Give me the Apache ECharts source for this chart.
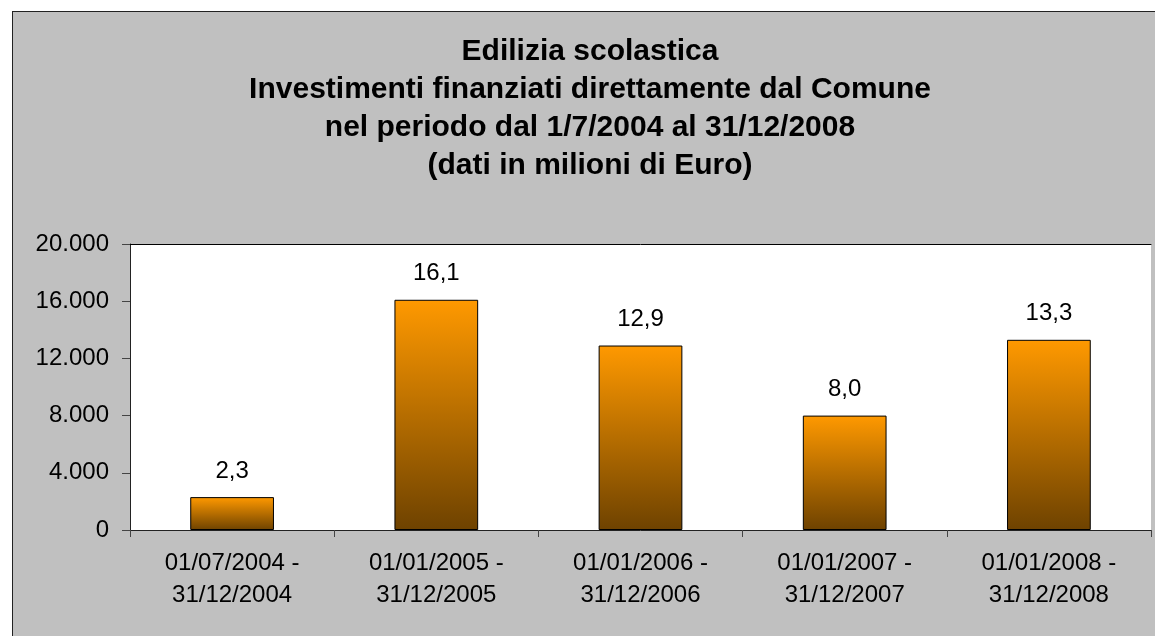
<!DOCTYPE html>
<html lang="it">
<head>
    <meta charset="UTF-8">
    <title>Edilizia scolastica</title>
    <script src="https://cdn.jsdelivr.net/npm/echarts@6/dist/echarts.min.js"></script>
    <style>
        body { margin: 0; background: #fff; }
        .wrap { position: relative; width: 1155px; height: 636px; overflow: hidden; }
        .frame { position: absolute; left: 12px; top: 11px; width: 1200px; height: 700px;
                 background: #c0c0c0; border: 1px solid #222; }
        #main { position: absolute; left: 0; top: 0; width: 1155px; height: 636px; }
    </style>
</head>
<body>
<div class="wrap">
    <div class="frame"></div>
    <div id="main"></div>
</div>
<script>
    // periodi
    var categories = [
        '01/07/2004 -\n31/12/2004',
        '01/01/2005 -\n31/12/2005',
        '01/01/2006 -\n31/12/2006',
        '01/01/2007 -\n31/12/2007',
        '01/01/2008 -\n31/12/2008'
    ];
    // investimenti (migliaia di euro)
    var values = [2300, 16100, 12900, 8000, 13300];
    var yMin = 0, yMax = 20000, yStep = 4000;

    var font = "'Liberation Sans', Arial, sans-serif";

    function thousands(v) {
        return String(v).replace(/\B(?=(\d{3})+(?!\d))/g, '.');
    }

    var myChart = echarts.init(document.getElementById('main'));
    var option = {
        backgroundColor: 'transparent',
        animation: false,
        title: {
            text: 'Edilizia scolastica\nInvestimenti finanziati direttamente dal Comune\nnel periodo dal 1/7/2004 al 31/12/2008\n(dati in milioni di Euro)',
            left: 590,
            top: 33,
            textAlign: 'center',
            padding: 0,
            textStyle: {
                fontFamily: font,
                fontSize: 30,
                fontWeight: 'bold',
                color: '#000',
                lineHeight: 38
            }
        },
        grid: {
            left: 130,
            right: 4,
            top: 244,
            bottom: 106,
            show: true,
            backgroundColor: '#fff',
            borderWidth: 0
        },
        xAxis: [{
            type: 'category',
            data: categories,
            axisLine: { lineStyle: { color: '#222', width: 1 } },
            axisTick: { show: true, length: 7, alignWithLabel: false, lineStyle: { color: '#444' } },
            axisLabel: {
                interval: 0,
                margin: 17,
                fontFamily: font,
                fontSize: 24,
                lineHeight: 32,
                color: '#000'
            }
        }, {
            // riga superiore dell'area del grafico
            type: 'category',
            position: 'top',
            data: categories,
            axisLine: { show: true, lineStyle: { color: '#000', width: 1 } },
            axisTick: { show: false },
            axisLabel: { show: false }
        }],
        yAxis: {
            type: 'value',
            min: yMin,
            max: yMax,
            interval: yStep,
            axisLine: { show: true, lineStyle: { color: '#222', width: 1 } },
            axisTick: { show: true, length: 8, lineStyle: { color: '#444' } },
            splitLine: { show: false },
            axisLabel: {
                margin: 21,
                fontFamily: font,
                fontSize: 24,
                color: '#000',
                formatter: function (v) { return thousands(v); }
            }
        },
        series: [{
            type: 'bar',
            data: values,
            barWidth: '41%',
            itemStyle: {
                borderColor: '#000',
                borderWidth: 1,
                color: new echarts.graphic.LinearGradient(0, 0, 0, 1, [
                    { offset: 0, color: '#ff9900' },
                    { offset: 1, color: '#6e4200' }
                ])
            },
            label: {
                show: true,
                position: 'top',
                distance: 14,
                fontFamily: font,
                fontSize: 24,
                color: '#000',
                formatter: function (p) {
                    return (p.value / 1000).toFixed(1).replace('.', ',');
                }
            }
        }]
    };
    myChart.setOption(option);
</script>
</body>
</html>
